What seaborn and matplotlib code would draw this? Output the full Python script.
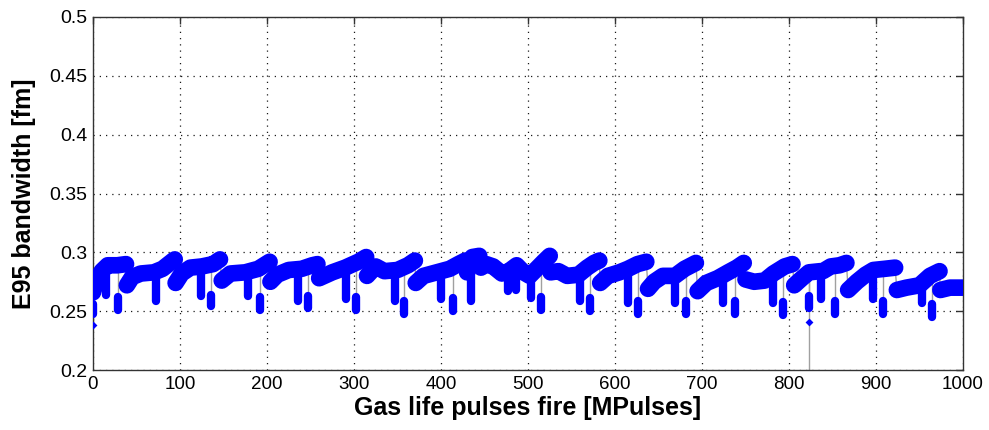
import matplotlib
matplotlib.use("Agg")
import matplotlib.pyplot as plt
from matplotlib.ticker import FuncFormatter, MultipleLocator
import numpy as np
import pandas as pd
import seaborn as sns

# band centre line, one list per gas fill
seg_x = [
    [0, 4, 10, 17, 28, 38],
    [39, 45, 55, 70, 80, 92, 94],
    [95, 102, 112, 125, 138, 146],
    [148, 158, 175, 190, 203],
    [204, 212, 225, 240, 252, 258],
    [260, 275, 290, 305, 314],
    [315, 325, 335, 350, 362, 370],
    [371, 380, 395, 410, 420, 428],
    [430, 436, 444],
    [446, 452, 460, 470, 478, 487, 495, 502, 510, 518, 525],
    [526, 535, 545, 558, 568, 576, 582],
    [583, 592, 605, 615, 626, 636],
    [638, 645, 655, 669, 680, 693],
    [695, 705, 718, 730, 740, 748],
    [750, 760, 772, 782, 795, 804],
    [806, 815, 823, 836],
    [839, 848, 858, 866],
    [868, 878, 888, 897, 910, 922],
    [924, 935, 950, 962, 973],
    [974, 985, 1000],
]
seg_y = [
    [0.266, 0.276, 0.284, 0.289, 0.289, 0.290],
    [0.272, 0.279, 0.282, 0.283, 0.286, 0.293, 0.294],
    [0.274, 0.282, 0.287, 0.288, 0.290, 0.294],
    [0.276, 0.282, 0.283, 0.286, 0.292],
    [0.275, 0.281, 0.285, 0.286, 0.289, 0.290],
    [0.278, 0.283, 0.287, 0.292, 0.296],
    [0.280, 0.288, 0.284, 0.285, 0.289, 0.293],
    [0.274, 0.280, 0.283, 0.286, 0.290, 0.293],
    [0.283, 0.296, 0.297],
    [0.287, 0.290, 0.288, 0.282, 0.284, 0.289, 0.283, 0.280, 0.286, 0.292, 0.297],
    [0.283, 0.284, 0.280, 0.281, 0.287, 0.291, 0.293],
    [0.274, 0.280, 0.283, 0.286, 0.290, 0.292],
    [0.269, 0.275, 0.280, 0.280, 0.286, 0.291],
    [0.267, 0.274, 0.278, 0.283, 0.287, 0.291],
    [0.277, 0.275, 0.276, 0.282, 0.288, 0.290],
    [0.272, 0.278, 0.283, 0.284],
    [0.284, 0.288, 0.289, 0.291],
    [0.268, 0.275, 0.281, 0.285, 0.286, 0.287],
    [0.268, 0.270, 0.272, 0.280, 0.284],
    [0.268, 0.270, 0.270],
]

# downward dips: position, lowest value, top of blue blob, where the grey trace leaves the band
dip_x = [0, 15, 29, 72, 124, 136, 178, 192, 236, 247, 291, 302, 347, 358, 400, 414,
         434, 477, 486, 503, 515, 560, 571, 615, 626, 669, 682, 724, 738, 782, 793,
         823, 837, 853, 897, 908, 953, 964]
dip_lo = [0.248, 0.264, 0.251, 0.259, 0.263, 0.254, 0.263, 0.251, 0.259, 0.253, 0.260, 0.251,
          0.259, 0.248, 0.260, 0.250, 0.259, 0.267, 0.268, 0.261, 0.251, 0.259, 0.250,
          0.257, 0.248, 0.257, 0.248, 0.257, 0.248, 0.257, 0.247, 0.253, 0.260, 0.248,
          0.260, 0.248, 0.257, 0.245]
dip_hi = [0.256, 0.282, 0.262, 0.280, 0.284, 0.264, 0.281, 0.262, 0.282, 0.263, 0.282, 0.262,
          0.281, 0.259, 0.281, 0.261, 0.284, 0.281, 0.284, 0.279, 0.262, 0.281, 0.261,
          0.284, 0.259, 0.279, 0.259, 0.280, 0.259, 0.279, 0.258, 0.263, 0.283, 0.259,
          0.282, 0.259, 0.270, 0.256]
dip_top = [0.266, 0.284, 0.285, 0.282, 0.286, 0.288, 0.284, 0.286, 0.286, 0.289, 0.286, 0.290,
           0.286, 0.288, 0.285, 0.288, 0.288, 0.284, 0.288, 0.280, 0.286, 0.282, 0.286,
           0.286, 0.290, 0.281, 0.285, 0.282, 0.286, 0.282, 0.287, 0.283, 0.285, 0.288,
           0.286, 0.287, 0.276, 0.280]

# single outliers
out_x = [0, 823]
out_y = [0.238, 0.241]
out_from = [0.250, 0.283]
out_to = [0.238, 0.150]

rows = []
for i, (xs, ys) in enumerate(zip(seg_x, seg_y)):
    for xv, yv in zip(xs, ys):
        rows.append((i, xv, yv))
df = pd.DataFrame(rows, columns=["seg", "pulses", "e95"])

sns.set_theme(style="white")
plt.rcParams['font.family'] = ['Liberation Sans', 'DejaVu Sans']
plt.rcParams['text.color'] = 'black'
plt.rcParams['axes.labelcolor'] = 'black'
plt.rcParams['xtick.color'] = 'black'
plt.rcParams['ytick.color'] = 'black'

blue = "#0000ff"
grey = "#a0a0a0"

fig = plt.figure(figsize=(9.89, 4.30), dpi=100)
ax = fig.add_axes([0.094, 0.1395, 0.8797, 0.821])

# thin grey trace linking everything
sns.lineplot(data=df, x="pulses", y="e95", color=grey, linewidth=1.0,
             estimator=None, sort=False, ax=ax, zorder=2)
ax.vlines(dip_x, dip_lo, dip_top, color=grey, linewidth=1.0, zorder=2)
ax.vlines(out_x, out_to, out_from, color=grey, linewidth=1.0, zorder=2)

# dense blue band of points
sns.lineplot(data=df, x="pulses", y="e95", units="seg", estimator=None, sort=False,
             color=blue, linewidth=12, solid_capstyle="round", solid_joinstyle="round",
             ax=ax, zorder=3)
ax.vlines(dip_x, dip_lo, dip_hi, color=blue, linewidth=6, capstyle="round", zorder=3)
sns.scatterplot(x=out_x, y=out_y, color=blue, marker="D", s=16, linewidth=0, ax=ax, zorder=4)

ax.set_xlim(0, 1000)
ax.set_ylim(0.2, 0.5)
ax.xaxis.set_major_locator(MultipleLocator(100))
ax.yaxis.set_major_locator(MultipleLocator(0.05))
ax.yaxis.set_major_formatter(FuncFormatter(lambda v, _: f"{v:g}"))

ax.grid(True, color="k", linestyle=(0, (1, 4)), linewidth=0.9)
ax.set_axisbelow(True)
for sp in ax.spines.values():
    sp.set_color("#333333")
    sp.set_linewidth(1.0)
ax.tick_params(direction="in", length=5, width=1, color="#333333",
               top=True, right=True, labelsize=14, pad=4)
ax.tick_params(axis="x", labelsize=13.5)

ax.set_xlabel("Gas life pulses fire [MPulses]", fontsize=18, fontweight="bold")
ax.set_ylabel("E95 bandwidth [fm]", fontsize=18, fontweight="bold")
ax.xaxis.set_label_coords(0.5, -0.075)
ax.yaxis.set_label_coords(-0.066, 0.5)

fig.savefig("out.png", dpi=100, facecolor="white")
